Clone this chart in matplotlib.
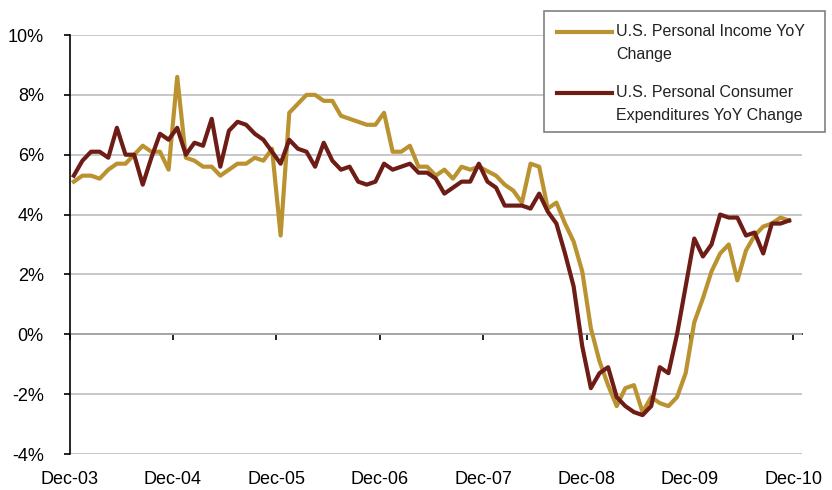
import numpy as np
import matplotlib
matplotlib.use("Agg")
import matplotlib.pyplot as plt
from matplotlib.lines import Line2D
from matplotlib.patches import Rectangle

plt.rcParams['font.family'] = ['Liberation Sans', 'DejaVu Sans']

# DATA (monthly, Dec-03 .. Nov-10, YoY % change)

tick_labels = ["Dec-03", "Dec-04", "Dec-05", "Dec-06", "Dec-07", "Dec-08", "Dec-09", "Dec-10"]

income = [5.1, 5.3, 5.3, 5.2, 5.5, 5.7, 5.7, 6.0, 6.3, 6.1, 6.1, 5.5,
          8.6, 5.9, 5.8, 5.6, 5.6, 5.3, 5.5, 5.7, 5.7, 5.9, 5.8, 6.2,
          3.3, 7.4, 7.7, 8.0, 8.0, 7.8, 7.8, 7.3, 7.2, 7.1, 7.0, 7.0,
          7.4, 6.1, 6.1, 6.3, 5.6, 5.6, 5.3, 5.5, 5.2, 5.6, 5.5, 5.6,
          5.45, 5.3, 5.0, 4.8, 4.4, 5.7, 5.6, 4.2, 4.4, 3.7, 3.1, 2.1,
          0.2, -0.9, -1.7, -2.4, -1.8, -1.7, -2.6, -2.1, -2.3, -2.4, -2.1, -1.3,
          0.4, 1.2, 2.1, 2.7, 3.0, 1.8, 2.8, 3.3, 3.6, 3.7, 3.9, 3.8]

spending = [5.3, 5.8, 6.1, 6.1, 5.9, 6.9, 6.0, 6.0, 5.0, 5.9, 6.7, 6.5,
            6.9, 6.0, 6.4, 6.3, 7.2, 5.6, 6.8, 7.1, 7.0, 6.7, 6.5, 6.1,
            5.7, 6.5, 6.2, 6.1, 5.6, 6.4, 5.8, 5.5, 5.6, 5.1, 5.0, 5.1,
            5.7, 5.5, 5.6, 5.7, 5.4, 5.4, 5.2, 4.7, 4.9, 5.1, 5.1, 5.7,
            5.1, 4.9, 4.3, 4.3, 4.3, 4.2, 4.7, 4.1, 3.7, 2.7, 1.6, -0.4,
            -1.8, -1.3, -1.1, -2.1, -2.4, -2.6, -2.7, -2.4, -1.1, -1.3, 0.0, 1.6,
            3.2, 2.6, 3.0, 4.0, 3.9, 3.9, 3.3, 3.4, 2.7, 3.7, 3.7, 3.8]

series_names = ["U.S. Personal Income YoY\nChange",
                "U.S. Personal Consumer\nExpenditures YoY Change"]

GOLD = "#BA9230"
MAROON = "#6E1C16"
GRID = "#BEBEBE"

# PLOT

W, H = 832, 490
fig = plt.figure(figsize=(W / 100, H / 100), dpi=100)
ax = fig.add_axes([69.5 / W, 36 / H, 732.5 / W, 419 / H])

x = np.arange(len(income)) + 0.5
ax.plot(x, income, color=GOLD, lw=3, zorder=3)
ax.plot(x, spending, color=MAROON, lw=3, zorder=4)

ax.set_xlim(0, 85)
ax.set_ylim(-4, 10)
ax.set_yticks(range(-4, 11, 2))
ax.yaxis.set_major_formatter(lambda v, p: f"{v:.0f}%")
ax.grid(axis="y", color=GRID, lw=1.2)
ax.set_axisbelow(True)

for side in ["top", "right", "bottom"]:
    ax.spines[side].set_visible(False)
ax.spines["left"].set_linewidth(1.2)

ax.tick_params(axis="y", direction="out", length=4.5, width=1.2, pad=14, labelsize=13)
ax.set_xticks(np.arange(0, 85, 12), tick_labels)
ax.tick_params(axis="x", length=0, pad=12, labelsize=13)

# zero line with tick marks
zero_axis = ax.secondary_xaxis(4 / 14)
zero_axis.set_xticks(np.arange(0, 85, 12))
zero_axis.set_xticklabels([])
zero_axis.tick_params(direction="out", length=4, width=1.2)
zero_axis.spines["bottom"].set_linewidth(1.2)

# LEGEND (box sticks out of the plot area like the Excel one)

fig.add_artist(Rectangle((544 / W, 1 - 132 / H), 281 / W, 120.5 / H,
                         transform=fig.transFigure, facecolor="white",
                         edgecolor="#808080", lw=1.2, zorder=5))
for color, name, ly in [(GOLD, series_names[0], 32), (MAROON, series_names[1], 93)]:
    fig.add_artist(Line2D([557 / W, 612 / W], [1 - ly / H] * 2,
                          transform=fig.transFigure, color=color, lw=3, zorder=6))
    # baseline of the last text line
    fig.text(616 / W, 1 - (ly + 27) / H, name, fontsize=11.5, va="baseline",
             ha="left", linespacing=1.68, color="#222222", zorder=7)

fig.savefig("out.png", dpi=100)
